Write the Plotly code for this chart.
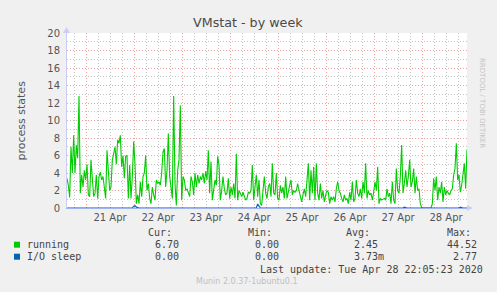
import plotly.graph_objects as go
import pandas as pd

# ---------------- data ----------------
running = [
    3.4, 2.6, 1.2, 7, 4, 8.3, 4, 7.2, 5.7, 12.8,
    1.7, 3.8, 2.4, 4.3, 3.2, 5, 1.5, 1.3, 5.5, 3.2,
    1.3, 1.7, 3.8, 1.1, 3.6, 4.1, 3.2, 3.6, 2.4, 1.1,
    6.6, 4.3, 2, 2.4, 5.5, 6.2, 7, 5, 7.8, 7.4,
    8.3, 4.7, 6, 3.4, 5.9, 6, 1.1, 4.9, 1.1, 3.6,
    7.6, 5, 0.5, 1.5, 0.5, 3, 1.3, 3.6, 4, 6,
    2, 2.8, 1.1, 0.5, 2.4, 1.5, 0.9, 3.2, 2.8, 3,
    2.6, 4, 6.4, 6.8, 2.4, 4.3, 8.5, 3.6, 2.6, 1.1,
    12.8, 2.8, 0.3, 4.3, 5.5, 11.7, 0.9, 3.6, 3.2, 2,
    2.2, 1.8, 1.3, 3.6, 3, 1.5, 4, 2.4, 3.8, 2.8,
    3.6, 3.2, 4, 2.8, 4.2, 3.2, 6.6, 1.7, 5.3, 0.9,
    2, 3.2, 2.6, 5.9, 4.9, 0.9, 2, 3.6, 2.2, 1.5,
    1.7, 3.4, 1.1, 2.4, 1.5, 2.8, 1.1, 6.2, 0.9, 2,
    1.7, 1.3, 1.8, 1.3, 0.9, 1.1, 1.8, 1.7, 2,
    4.9, 0.9, 2.4, 3.8, 1.3, 3.2, 0.5, 0.3, 2, 3.6,
    1.7, 1.1, 2.4, 2.8, 1.3, 5.1, 1.7, 1.5, 4, 1.1,
    0.9, 2.6, 1.7, 2.4, 1.1, 3.6, 1.1, 2, 2.6, 3.2,
    1.5, 2, 1.8, 2, 2.8, 2, 1.3, 0.7, 1.5, 2.2,
    1.3, 3.6, 5.1, 0.9, 4.3, 1.7, 4.7, 0.9, 5.1, 1.7,
    0.9, 2.8, 1.1, 2, 0.7, 1.5, 2, 1.8, 0.5, 1.3,
    0.9, 1.3, 0.7, 2.2, 3, 2, 1.7, 1.1, 0.7, 1.5,
    0.9, 1.1, 0.5, 1.8, 0.9, 3, 0.7, 1.1, 3.2, 1.7,
    1.3, 2.2, 1.1, 3, 1.7, 5.1, 1.1, 2, 1.5, 1.7,
    0.9, 1.8, 3, 2, 4.7, 0.5, 1.1, 0.9, 1, 1.1,
    0.9, 2.2, 1.3, 1.7, 0.5, 3, 0.9, 0.5, 4.5, 2,
    1.7, 3.6, 7.2, 1.7, 2.8, 4.3, 2.4, 3.6, 5.5, 2.4,
    3, 4.5, 1.7, 3.6, 2, 2.2, 0.5, 0.05, 0, 0,
    0, 0, 0, 0, 0, 0.5, 3.4, 2, 3.6, 0.9,
    2.4, 1.7, 3, 0.7, 2.4, 1.5, 2, 1.7, 1.5, 2,
    2.2, 3.8, 4.5, 7.4, 3.2, 3.8, 1.8, 2.6, 4, 5.1,
    2.2, 6.7,
]
# I/O sleep is 0 except for a few small bumps (sample index -> value)
io_sleep_bumps = {50: 0.2, 51: 0.25, 52: 0.1, 143: 0.45, 144: 0.2,
                  234: 0.08, 253: 0.1, 295: 0.1}

start_time = "2020-04-20 14:30"
end_time = "2020-04-28 22:30"
sample_minutes = 40

series_names = ["running", "I/O sleep"]
series_colors = ["#00cc00", "#0066b3"]
cur_vals = ["6.70", "0.00"]
min_vals = ["0.00", "0.00"]
avg_vals = ["2.45", "3.73m"]
max_vals = ["44.52", "2.77"]

title_text = "VMstat - by week"
y_title = "process states"
last_update = "Last update: Tue Apr 28 22:05:23 2020"
munin_text = "Munin 2.0.37-1ubuntu0.1"
rrd_text = "RRDTOOL / TOBI OETIKER"

# ---------------- build ----------------
t0 = pd.Timestamp(start_time)
times = [t0 + pd.Timedelta(minutes=sample_minutes * i) for i in range(len(running))]
io_sleep = [io_sleep_bumps.get(i, 0.0) for i in range(len(running))]

W, H = 497, 292
L, R, T, B = 67, 467, 33, 208


def px(x):
    return (x - L) / (R - L)


def py(y):
    return (B - y) / (B - T)


fig = go.Figure()
fig.add_trace(go.Scatter(x=times, y=running, mode="lines",
                         line=dict(color=series_colors[0], width=1.1),
                         hoverinfo="skip", showlegend=False))
fig.add_trace(go.Scatter(x=times, y=io_sleep, mode="lines",
                         line=dict(color=series_colors[1], width=1.2),
                         hoverinfo="skip", showlegend=False, cliponaxis=False))

red = "rgba(235,140,140,0.8)"
grey = "rgba(190,190,190,0.9)"
dash = "1px,2px"

fig.update_xaxes(
    type="date", range=[start_time, end_time],
    dtick=86400000, tick0="2020-04-21 00:00", tickformat="%d %b",
    ticklabelmode="period", ticks="",
    showgrid=True, gridcolor=red, griddash=dash, gridwidth=1,
    minor=dict(dtick=6 * 3600000, tick0="2020-04-21 00:00", showgrid=True,
               gridcolor=grey, griddash=dash, gridwidth=1),
    showline=True, linecolor="#9fb3ee", linewidth=1,
    tickfont=dict(family="DejaVu Sans", size=10, color="#555555"),
    zeroline=False, fixedrange=True,
)
fig.update_yaxes(
    range=[0, 20], dtick=2, tick0=0, ticks="",
    showgrid=True, gridcolor=red, griddash=dash, gridwidth=1,
    minor=dict(dtick=1, showgrid=True, gridcolor=grey, griddash=dash, gridwidth=1),
    showline=True, linecolor="#ccccf5", linewidth=1,
    tickfont=dict(family="DejaVu Sans", size=10, color="#555555"),
    ticklabelstandoff=4,
    zeroline=False, fixedrange=True,
)

ann = []
ann.append(dict(text=title_text, x=px(248), y=py(13), xref="paper", yref="paper",
                showarrow=False, font=dict(family="DejaVu Sans", size=12.7, color="#4a4a4a")))
ann.append(dict(text=y_title, x=px(12), y=py(120), xref="paper", yref="paper",
                textangle=-90, showarrow=False,
                font=dict(family="DejaVu Sans", size=11, color="#555555")))
ann.append(dict(text=rrd_text, x=px(488), y=py(56), xref="paper", yref="paper",
                textangle=90, showarrow=False,
                font=dict(family="DejaVu Sans", size=7, color="#c4c4c4")))

mono = dict(family="DejaVu Sans Mono", size=10, color="#444444")


def text_at(s, x, y, anchor):
    ann.append(dict(text=s, x=px(x), y=py(y), xref="paper", yref="paper",
                    xanchor=anchor, yanchor="middle", showarrow=False,
                    borderpad=0, borderwidth=0, font=mono))


header_y = 232.5
row_y = [244.7, 256.7]
text_at("Cur:", 172, header_y, "right")
text_at("Min:", 272, header_y, "right")
text_at("Avg:", 370, header_y, "right")
text_at("Max:", 471, header_y, "right")
for i, name in enumerate(series_names):
    text_at(name, 26.5, row_y[i], "left")
    text_at(cur_vals[i], 179, row_y[i], "right")
    text_at(min_vals[i], 279, row_y[i], "right")
    text_at(avg_vals[i], 354, row_y[i], "left")
    text_at(max_vals[i], 477, row_y[i], "right")
text_at(last_update, 483, 269, "right")
ann.append(dict(text=munin_text, x=px(247), y=py(281), xref="paper", yref="paper",
                showarrow=False, yanchor="middle",
                font=dict(family="DejaVu Sans", size=8, color="#c0c0c0")))

shapes = []
for i, c in enumerate(series_colors):
    shapes.append(dict(type="rect", xref="paper", yref="paper",
                       x0=px(14), x1=px(20), y0=py(row_y[i] - 3), y1=py(row_y[i] + 3),
                       fillcolor=c, line=dict(width=0)))
# axis arrows
shapes.append(dict(type="path", xref="paper", yref="paper",
                   path=f"M {px(467)} {py(205)} L {px(473)} {py(208)} L {px(467)} {py(211)} Z",
                   fillcolor="#c8cff8", line=dict(width=0)))
shapes.append(dict(type="path", xref="paper", yref="paper",
                   path=f"M {px(63)} {py(33)} L {px(66.5)} {py(27)} L {px(70)} {py(33)} Z",
                   fillcolor="#c8cff8", line=dict(width=0)))

fig.update_layout(
    width=W, height=H,
    margin=dict(l=L, r=W - R, t=T, b=H - B, pad=0),
    paper_bgcolor="#f0f0f0", plot_bgcolor="#ffffff",
    annotations=ann, shapes=shapes, showlegend=False,
)

fig.write_html("out.html", config={"displayModeBar": False})
